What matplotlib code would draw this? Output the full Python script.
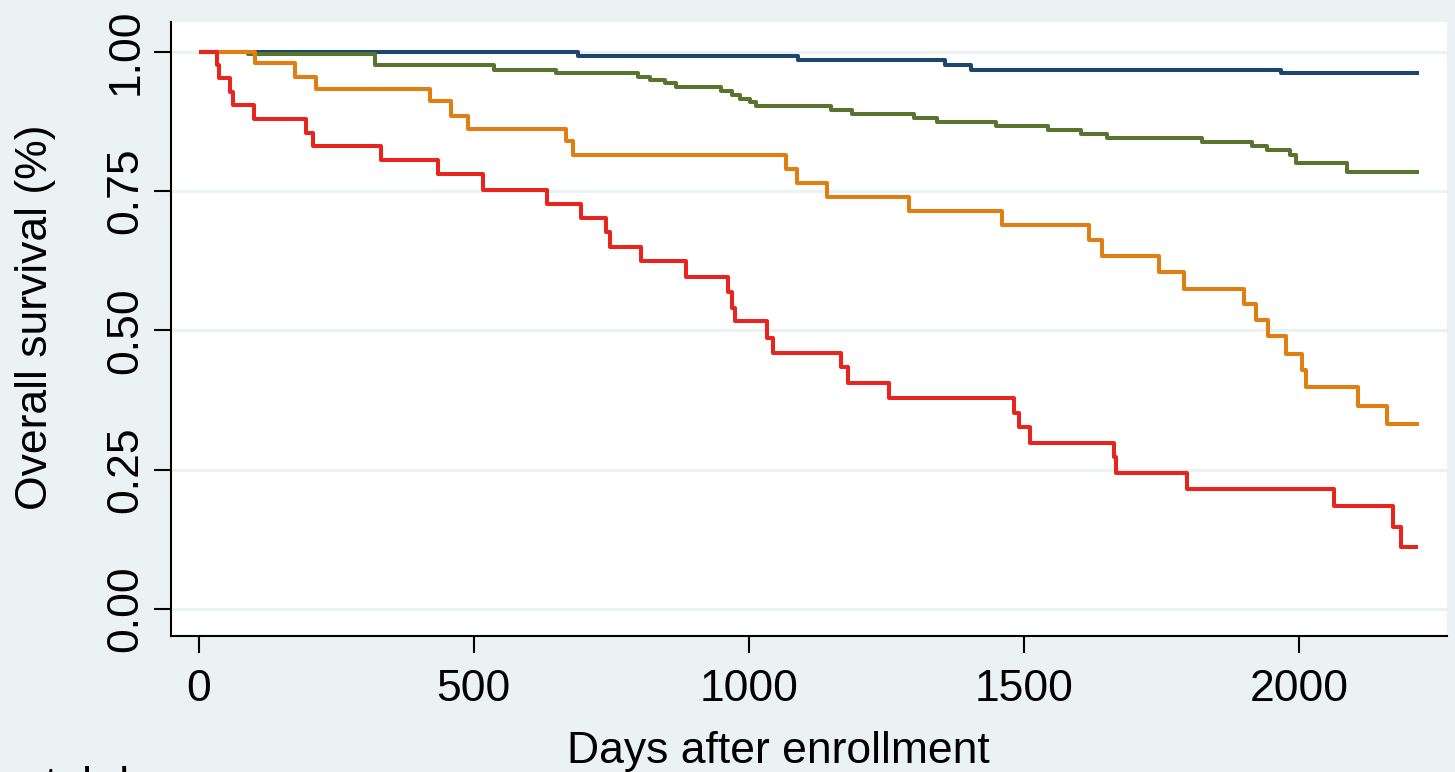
import matplotlib
matplotlib.use("Agg")
import matplotlib.pyplot as plt

plt.rcParams["font.family"] = ["Liberation Sans", "DejaVu Sans"]

# Kaplan-Meier estimates (days, survival)
navy_t = [0, 690, 1089, 1356, 1404, 1967, 2218]
navy_s = [1.0, 0.993, 0.985, 0.977, 0.968, 0.961, 0.961]

green_t = [0, 90, 321, 536, 650, 798, 820, 848, 868, 950, 970, 984, 1001, 1012,
           1149, 1188, 1299, 1341, 1449, 1543, 1604, 1650, 1823, 1914, 1941,
           1983, 1994, 2086, 2218]
green_s = [1.0, 0.995, 0.977, 0.968, 0.961, 0.955, 0.949, 0.943, 0.936, 0.930,
           0.923, 0.916, 0.909, 0.902, 0.895, 0.888, 0.881, 0.873, 0.866, 0.860,
           0.852, 0.845, 0.838, 0.830, 0.823, 0.815, 0.800, 0.784, 0.784]

orange_t = [0, 102, 176, 213, 421, 459, 489, 667, 680, 1068, 1087, 1142, 1291,
            1459, 1618, 1641, 1744, 1791, 1899, 1921, 1943, 1976, 2005, 2011,
            2106, 2159, 2218]
orange_s = [1.0, 0.979, 0.955, 0.933, 0.911, 0.885, 0.861, 0.839, 0.815, 0.789,
            0.765, 0.740, 0.715, 0.689, 0.662, 0.634, 0.605, 0.575, 0.548,
            0.519, 0.489, 0.458, 0.428, 0.398, 0.364, 0.332, 0.332]

red_t = [0, 34, 38, 58, 62, 101, 195, 208, 332, 435, 517, 633, 694, 741, 748,
         803, 886, 961, 970, 974, 1033, 1044, 1167, 1179, 1255, 1481, 1490,
         1511, 1663, 1666, 1796, 2062, 2170, 2185, 2216]
red_s = [1.0, 0.976, 0.952, 0.928, 0.904, 0.880, 0.854, 0.830, 0.805, 0.780,
         0.752, 0.727, 0.701, 0.677, 0.649, 0.625, 0.596, 0.569, 0.541, 0.516,
         0.487, 0.460, 0.434, 0.406, 0.379, 0.352, 0.326, 0.298, 0.272, 0.244,
         0.216, 0.185, 0.148, 0.112, 0.112]

x_ticks = [0, 500, 1000, 1500, 2000]
y_ticks = [0.0, 0.25, 0.5, 0.75, 1.0]
y_labels = ["0.00", "0.25", "0.50", "0.75", "1.00"]

bg = "#eaf2f3"

fig = plt.figure(figsize=(14.55, 7.72), dpi=100)
fig.patch.set_facecolor(bg)
ax = fig.add_axes([0.11753, 0.17617, 0.87698, 0.79534])
ax.set_facecolor("white")

for t, s, c in [(navy_t, navy_s, "#1c466e"),
                (green_t, green_s, "#58742f"),
                (orange_t, orange_s, "#e07e12"),
                (red_t, red_s, "#e8241e")]:
    ax.step(t, s, where="post", color=c, lw=2.9, solid_capstyle="butt")

ax.set_xlim(-50, 2268)
ax.set_ylim(-0.0484, 1.0533)

ax.set_xticks(x_ticks)
ax.set_yticks(y_ticks)
ax.set_yticklabels(y_labels, rotation=90, va="center")
ax.grid(axis="y", color=bg, lw=2.2)
ax.set_axisbelow(True)

for side in ["top", "right"]:
    ax.spines[side].set_visible(False)
for side in ["left", "bottom"]:
    ax.spines[side].set_linewidth(1.5)
    ax.spines[side].set_color("black")

ax.tick_params(axis="both", direction="out", length=12, width=1.5,
               labelsize=32, colors="black")
ax.tick_params(axis="x", pad=12)
ax.tick_params(axis="y", pad=5.5)

ax.set_xlabel("Days after enrollment", fontsize=32)
ax.xaxis.label.set_va("baseline")
ax.xaxis.set_label_coords(0.4757, -0.2068)

ax.set_ylabel("Overall survival (%)", fontsize=32)
ax.yaxis.label.set_va("baseline")
ax.yaxis.set_label_coords(-0.0972, 0.5195)

# text cut off at the bottom edge of the original picture
fig.text(0.031, -0.0337, "tal de", fontsize=32, va="baseline")

fig.savefig("out.png", dpi=100, facecolor=bg)
